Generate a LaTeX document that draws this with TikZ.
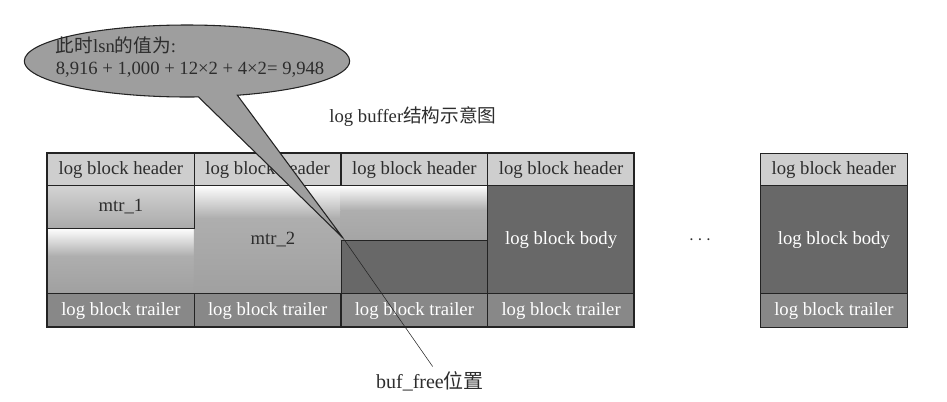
\documentclass[tikz,border=0pt]{standalone}
\usepackage{fontspec}
\setmainfont{Liberation Serif}
\newfontfamily\cjk{Noto Sans CJK SC}
\usepackage{tikz}
\usetikzlibrary{shapes.geometric, shapes.callouts, positioning}
\definecolor{hdrgray}{RGB}{206,206,206}
\definecolor{trlgray}{RGB}{136,136,136}
\definecolor{bodygray}{RGB}{104,104,104}
\definecolor{mtrgray}{RGB}{160,160,160}
\definecolor{notegray}{RGB}{158,158,158}
\definecolor{linedark}{RGB}{35,35,35}
\definecolor{txtdark}{RGB}{45,45,45}
\tikzset{
  cell/.style={rectangle, draw=linedark, line width=0.8pt, inner sep=0pt,
    minimum width=110pt, font=\fontsize{14}{16}\selectfont},
  hdrcell/.style={cell, fill=hdrgray, text=txtdark, minimum height=24pt},
  trlcell/.style={cell, fill=trlgray, text=white, minimum height=25.5pt},
  bodycell/.style={cell, fill=bodygray, text=white, minimum height=81pt},
  mtrcell/.style={cell, top color=hdrgray!90, bottom color=mtrgray!90,
    text=txtdark, minimum height=32.25pt},
  fade/.style={top color=white, bottom color=mtrgray!85},
  label/.style={font=\fontsize{14}{16}\selectfont, text=txtdark},
  note/.style={ellipse callout, draw=linedark, line width=0.8pt, fill=notegray,
    minimum width=244pt, minimum height=54pt, callout pointer arc=14}
}
\begin{document}
\begin{tikzpicture}[x=0.75pt, y=-0.75pt]
  \useasboundingbox (0,0) rectangle (947,401);

  % ── mtr contents in the first three blocks ───────────────────────────────
  \shade[fade] (47,228) rectangle (193.75,256);
  \shade[top color=mtrgray!85, bottom color=mtrgray] (47,256) rectangle (193.75,293);
  \shade[fade] (193.75,185) rectangle (340.5,218);
  \shade[top color=mtrgray!85, bottom color=mtrgray] (193.75,218) rectangle (340.5,293);
  \shade[fade] (340.5,185) rectangle (487.25,210);
  \shade[top color=mtrgray!85, bottom color=mtrgray!95] (340.5,210) rectangle (487.25,240);
  \node[mtrcell, anchor=north west] (mtr1) at (47,185) {mtr\_1};
  \node[label] (mtr2) at (273,240) {mtr\_2};
  \node[bodycell, minimum height=39.75pt, anchor=north west] (free) at (340.5,240) {};

  % ── headers and trailers ─────────────────────────────────────────────────
  \foreach \i/\x in {1/47, 2/193.75, 3/340.5, 4/487.25, 5/760} {
    \node[hdrcell, anchor=north west] (hdr\i) at (\x,153) {log block header};
    \node[trlcell, anchor=north west] (trl\i) at (\x,293) {log block trailer};
  }
  \node[bodycell, anchor=north west] (body4) at (487.25,185) {log block body};
  \node[bodycell, anchor=north west] (body5) at (760,185) {log block body};
  \draw[linedark, line width=0.8pt] (47,153) rectangle (634,327);

  \node[label] (dots) at (700,240) {$\cdots$};
  \node[label] (title) at (413,117) {log buffer{\cjk 结构示意图}};

  % ── lsn callout and buf_free position ────────────────────────────────────
  \coordinate (tip) at (343,238);
  \node[note, callout absolute pointer={(tip)}] (lsn) at (187,61) {};
  \node[label, align=left] (lsntext) at (190,57)
    {{\cjk 此时}lsn{\cjk 的值为}:\\8,916 + 1,000 + 12×2 + 4×2= 9,948};
  \node[label, font=\fontsize{15}{17}\selectfont] (bufpos) at (430,381) {buf\_free{\cjk 位置}};
  \draw[linedark, thin] (tip) -- ([xshift=2pt]bufpos.north);
\end{tikzpicture}
\end{document}
